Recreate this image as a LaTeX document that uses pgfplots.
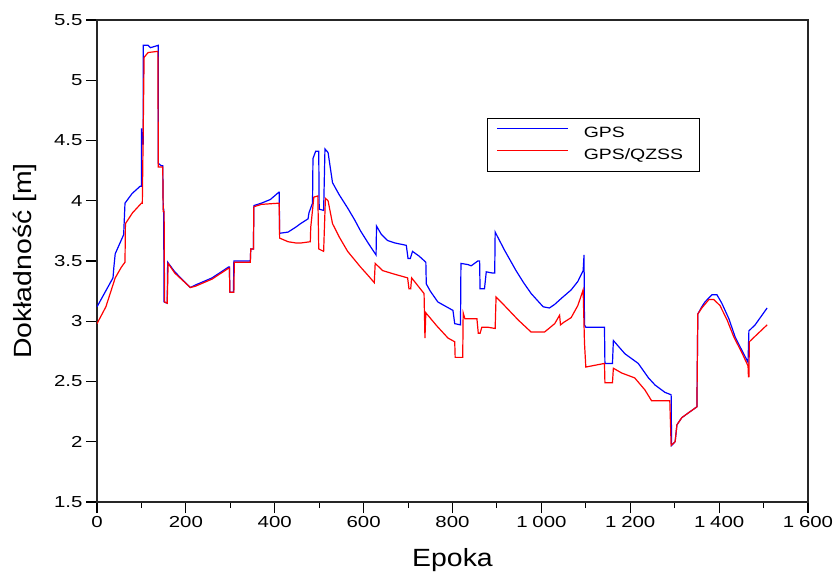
\documentclass[border=0pt]{standalone}
\usepackage{fontspec}
\setmainfont{Liberation Sans}
\newfontfamily\tickfont{Liberation Sans}[FakeStretch=1.28]
\newfontfamily\legfont{Liberation Sans}[FakeStretch=1.3]
\newfontfamily\labfont{Liberation Sans}[FakeStretch=1.14]
\usepackage{pgfplots}
\pgfplotsset{compat=1.18}
\begin{document}
\begin{tikzpicture}
\begin{axis}[name=ax, scale only axis, width=711bp, height=482bp,
  xmin=0, xmax=1600, ymin=1.5, ymax=5.5,
  xtick={0,200,...,1600}, minor x tick num=1,
  ytick={1.5,2,2.5,3,3.5,4,4.5,5,5.5},
  tick pos=left, tick align=outside,
  major tick length=11bp, minor tick length=6bp,
  axis line style={line width=1.3bp, black!85},
  every tick/.style={black, line width=1.1bp},
  /pgf/number format/assume math mode=true,
  /pgf/number format/1000 sep={\hspace{0.3em}},
  ticklabel style={font=\tickfont\fontsize{16}{18}\selectfont},
  xlabel={Epoka}, ylabel={Dokładność [m]},
  label style={font=\labfont\fontsize{25}{28}\selectfont},
  xlabel style={at={(axis description cs:0.5,-0.1328)}, anchor=base},
  ylabel style={at={(axis description cs:-0.1013,0.5)}, anchor=center},
  legend style={at={(axis description cs:0.5485,0.797)}, anchor=north west,
    draw=black, line width=1bp, fill=white,
    font=\legfont\fontsize{15}{17}\selectfont,
    inner xsep=9bp, inner ysep=6.5bp, row sep=4bp, column sep=15bp,
    nodes={inner sep=0bp, inner ysep=2bp, text height=11bp, text depth=3bp}},
  legend cell align=left,
  legend image code/.code={\draw[#1, line width=1.3bp] (0bp,5bp) -- (71bp,5bp);},
]
\addplot[color={rgb,255:red,0;green,0;blue,255}, line width=1.2bp] coordinates {
(0,3.12)(36,3.36)(38,3.45)(41,3.56)(59,3.71)(60,3.72)(63,3.98)(79,4.06)(97,4.12)(100,4.12)
(100,4.60)(102,4.47)(104,4.47)(104,5.29)(115,5.29)(120,5.27)(138,5.29)(138,4.31)(145,4.29)(148,4.29)
(149,3.93)(150,3.93)(151,3.16)(158,3.15)(159,3.49)(175,3.41)(210,3.28)(221,3.30)(259,3.36)(296,3.45)
(298,3.45)(299,3.24)(307,3.24)(308,3.50)(345,3.50)(346,3.60)(352,3.60)(353,3.96)(370,3.98)(390,4.01)
(409,4.07)(410,4.07)(411,3.73)(430,3.74)(447,3.78)(458,3.81)(475,3.85)(477,3.90)(485,3.98)(486,4.35)
(492,4.41)(499,4.41)(500,3.93)(510,3.92)(513,4.43)(520,4.40)(530,4.15)(545,4.05)(564,3.94)(580,3.84)(593,3.75)
(610,3.65)(628,3.55)(629,3.79)(640,3.72)(654,3.67)(670,3.65)(696,3.63)(700,3.52)(705,3.52)(710,3.58)(725,3.54)
(740,3.49)(741,3.31)(750,3.25)(767,3.16)(801,3.09)(805,2.98)(818,2.97)(819,3.48)(835,3.47)(842,3.46)
(857,3.50)(861,3.50)(862,3.27)(872,3.27)(876,3.41)(890,3.40)(895,3.40)(896,3.74)(917,3.59)(943,3.42)
(960,3.32)(977,3.23)(1004,3.12)(1018,3.11)(1030,3.14)(1045,3.19)(1067,3.26)(1082,3.33)(1094,3.42)(1096,3.55)(1097,2.97)(1100,2.95)(1142,2.95)
(1143,2.65)(1160,2.65)(1162,2.84)(1188,2.73)(1218,2.65)(1241,2.53)(1256,2.47)(1278,2.41)(1292,2.39)(1293,1.97)
(1301,2.00)(1305,2.14)(1316,2.20)(1331,2.24)(1350,2.29)(1352,3.06)(1361,3.12)(1368,3.16)(1384,3.22)(1395,3.22)
(1406,3.15)(1422,3.02)(1436,2.87)(1451,2.76)(1465,2.66)(1467,2.92)(1481,2.97)(1508,3.11)
};
\addlegendentry{\makebox[107bp][l]{GPS}}
\addplot[color={rgb,255:red,255;green,0;blue,0}, line width=1.2bp] coordinates {
(0,2.98)(20,3.12)(41,3.36)(55,3.45)(63,3.49)(64,3.81)(80,3.90)(100,3.98)(102,3.98)(106,5.19)
(115,5.23)(137,5.24)(138,4.28)(148,4.28)(149,3.91)(151,3.91)(152,3.16)(158,3.15)(160,3.48)(175,3.40)
(210,3.28)(221,3.29)(259,3.35)(296,3.44)(298,3.44)(299,3.24)(308,3.24)(309,3.49)(345,3.49)(346,3.60)
(352,3.60)(353,3.95)(370,3.97)(410,3.98)(411,3.69)(430,3.66)(447,3.65)(460,3.65)(480,3.66)(481,3.78)
(488,4.03)(497,4.04)(499,3.60)(510,3.58)(514,4.02)(520,4.00)(530,3.81)(545,3.70)(564,3.58)(593,3.45)(610,3.38)(624,3.32)
(626,3.48)(643,3.42)(670,3.39)(699,3.36)(702,3.27)(706,3.27)(708,3.36)(736,3.23)(738,2.86)(740,3.07)
(765,2.96)(790,2.86)(805,2.83)(806,2.70)(823,2.70)(824,3.07)(828,3.02)(855,3.02)(858,2.90)(862,2.90)
(866,2.95)(880,2.95)(896,2.94)(898,3.20)(917,3.13)(948,3.01)(977,2.91)(1007,2.91)(1030,2.98)(1041,3.05)
(1043,2.97)(1050,2.99)(1067,3.03)(1082,3.13)(1094,3.26)(1097,2.82)(1100,2.62)(1142,2.65)(1143,2.49)(1160,2.49)(1162,2.61)
(1181,2.57)(1210,2.53)(1233,2.43)(1248,2.34)(1289,2.34)(1292,1.97)(1301,2.00)(1305,2.14)(1316,2.20)(1331,2.24)
(1350,2.29)(1352,3.06)(1361,3.11)(1377,3.18)(1388,3.18)(1402,3.13)(1418,3.01)(1433,2.87)(1451,2.74)(1465,2.63)
(1466,2.54)(1467,2.54)(1468,2.83)(1508,2.97)
};
\addlegendentry{\makebox[107bp][l]{GPS/QZSS}}
\end{axis}
\pgfresetboundingbox
\path ([xshift=-97bp,yshift=-70bp]ax.south west) rectangle ([xshift=28bp,yshift=20bp]ax.north east);
\end{tikzpicture}
\end{document}
